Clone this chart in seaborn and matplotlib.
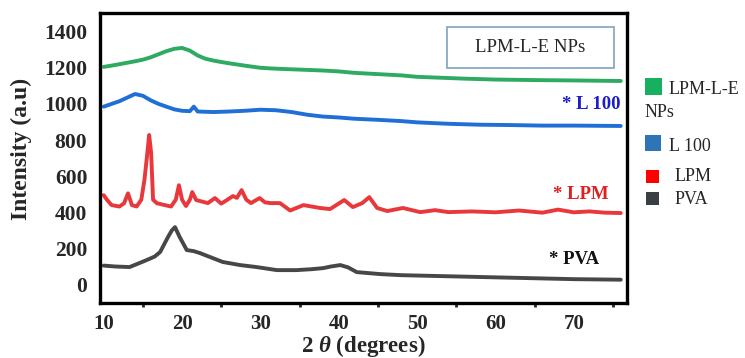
import matplotlib
matplotlib.use("Agg")
import matplotlib.pyplot as plt
from matplotlib.patches import Rectangle
from matplotlib.ticker import MultipleLocator
import numpy as np
import pandas as pd
import seaborn as sns

# ---- XRD patterns (2θ in degrees, intensity in a.u.) ----
pva_2theta = [10, 11.5, 13.3, 14.5, 15.5, 16.5, 17.2, 18.2, 18.7, 19.1, 19.7, 20.6,
              21.5, 22.3, 23.6, 25.2, 27.4, 29.5, 32.1, 34.6, 36.5, 38, 39, 40.2,
              41.2, 42.3, 45.3, 48, 50, 55, 60, 65, 70, 76]
pva_intensity = [105, 100, 97, 118, 136, 155, 180, 263, 300, 318, 263, 191,
                 185, 174, 152, 125, 108, 97, 80, 80, 85, 91, 100, 108,
                 95, 69, 58, 52, 50, 45, 40, 35, 30, 27]

lpm_2theta = [10, 10.4, 11, 12, 12.6, 13.1, 13.6, 14.2, 14.8, 15.2, 15.5, 15.8,
              16.05, 16.3, 16.8, 17.8, 18.6, 19.2, 19.6, 20.0, 20.5, 21.0, 21.3,
              21.8, 22.5, 23.3, 24.2, 25.0, 25.8, 26.5, 27.0, 27.6, 28.2, 28.8,
              29.9, 30.6, 31.3, 32.5, 33.8, 35.5, 37.6, 38.9, 40.7, 41.8, 43.0,
              43.9, 44.9, 46.2, 48.2, 50.4, 52.3, 54, 57, 60, 63, 66, 68, 70, 72,
              74, 76]
lpm_intensity = [495, 470, 440, 432, 450, 505, 440, 432, 470, 580, 700, 828,
                 730, 470, 450, 440, 432, 470, 550, 470, 435, 470, 512,
                 468, 460, 451, 479, 448, 470, 490, 480, 523, 470, 451,
                 479, 455, 451, 451, 410, 440, 424, 418, 468, 429, 451,
                 484, 424, 407, 424, 401, 412, 401, 405, 400, 410, 398, 415, 400, 405,
                 398, 396]

l100_2theta = [10, 11, 12, 13, 14, 15, 16, 17, 18, 19, 20, 21, 21.5, 22, 24, 26,
               28, 30, 32, 34, 36, 38, 40, 42, 45, 48, 50, 54, 58, 62, 66, 70, 76]
l100_intensity = [985, 1000, 1015, 1035, 1055, 1045, 1020, 1000, 985, 970, 962, 960,
                  985, 958, 955, 958, 962, 968, 965, 955, 940, 930, 925, 918, 912,
                  905, 898, 890, 885, 883, 880, 880, 878]

np_2theta = [10, 11, 12, 13, 14, 15, 16, 17, 18, 19, 20, 21, 22, 23, 24, 25, 26,
             28, 30, 32, 35, 38, 40, 42, 45, 48, 50, 53, 56, 60, 65, 70, 76]
np_intensity = [1205, 1212, 1220, 1228, 1236, 1245, 1258, 1275, 1292, 1305, 1310,
                1295, 1268, 1250, 1240, 1232, 1225, 1212, 1200, 1195, 1190, 1185,
                1180, 1172, 1165, 1158, 1150, 1145, 1140, 1135, 1132, 1130, 1127]

series_names = ["PVA", "LPM", "L 100", "LPM-L-E NPs"]
line_colors = ["#474747", "#e8383c", "#1f6fd6", "#2eaa62"]
swatch_colors = ["#3a3f44", "#ff0000", "#2e75b6", "#16b060"]
marker_texts = ["* PVA", "* LPM", "* L 100"]
marker_colors = ["#111111", "#e02020", "#1c1cc8"]

x_ticks = [10, 20, 30, 40, 50, 60, 70]
y_ticks = [0, 200, 400, 600, 800, 1000, 1200, 1400]

frames = []
for name, xs, ys in zip(series_names,
                        [pva_2theta, lpm_2theta, l100_2theta, np_2theta],
                        [pva_intensity, lpm_intensity, l100_intensity, np_intensity]):
    frames.append(pd.DataFrame({"two_theta": xs, "intensity": ys, "sample": name}))
df = pd.concat(frames, ignore_index=True)

sns.set_style("white")
plt.rcParams["font.family"] = ["Liberation Serif", "DejaVu Serif"]
plt.rcParams["mathtext.fontset"] = "custom"
plt.rcParams["mathtext.rm"] = "Liberation Serif"
plt.rcParams["mathtext.it"] = "Liberation Serif:italic:bold"
plt.rcParams["mathtext.bf"] = "Liberation Serif:bold"

W, H = 745, 358
fig = plt.figure(figsize=(W / 100, H / 100), dpi=100)
ax = fig.add_axes([99.8 / W, 1 - 303 / H, (627 - 99.8) / W, (303 - 12.7) / H])

sns.lineplot(data=df, x="two_theta", y="intensity", hue="sample",
             palette=dict(zip(series_names, line_colors)), estimator=None,
             sort=True, linewidth=2.8, legend=False, ax=ax)

ax.set_xlim(9.5, 76.8)
ax.set_ylim(-102, 1505)
ax.set_xticks(x_ticks)
ax.set_yticks(y_ticks)
ax.xaxis.set_minor_locator(MultipleLocator(5))
ax.tick_params(axis="x", which="major", direction="out", length=4, width=2,
               pad=4, labelsize=15)
ax.tick_params(axis="x", which="minor", direction="out", length=3, width=2,
               bottom=True)
ax.tick_params(axis="y", length=0, pad=9, labelsize=15.5)
for lbl in ax.get_xticklabels() + ax.get_yticklabels():
    lbl.set_fontweight("bold")

for sp in ax.spines.values():
    sp.set_linewidth(2.4)
    sp.set_color("black")

ax.set_xlabel(r"2 $\theta$ (degrees)", fontsize=16.5, fontweight="bold", labelpad=-1)
ax.set_ylabel("Intensity (a.u)", fontsize=17, fontweight="bold")
ax.yaxis.set_label_coords(-0.128, 0.53)

# sample tags at the right end of each trace
tag_pos = [(73.3, 140), (74.4, 496), (76.0, 995)]
for (tx, ty), txt, col in zip(tag_pos, marker_texts, marker_colors):
    ax.text(tx, ty, txt, color=col, fontsize=13.5, fontweight="bold",
            ha="right", va="center")

# title box inside the plot
def fx(px):
    return px / W

def fy(py):
    return 1 - py / H

fig.add_artist(Rectangle((fx(447), fy(68)), fx(614) - fx(447), fy(27) - fy(68),
                         transform=fig.transFigure, facecolor="white",
                         edgecolor="#7fa3bf", linewidth=1.2, zorder=5))
fig.text(fx(530.5), fy(48), series_names[3], fontsize=13.5, ha="center",
         va="center", zorder=6)

# legend swatches drawn beside the axes
swatches = [  # (left, top, size, text_x, text_y)
    (645, 78, 17, 669, 90),
    (645, 135, 16, 669, 146),
    (646, 170, 13, 675, 177),
    (646, 192, 13, 675, 199),
]
legend_order = [3, 2, 1, 0]
for (lx, ty, s, tx, tyy), idx in zip(swatches, legend_order):
    fig.add_artist(Rectangle((fx(lx), fy(ty + s)), s / W, s / H,
                             transform=fig.transFigure,
                             facecolor=swatch_colors[idx], edgecolor="none"))
    label = series_names[idx]
    if idx == 3:
        first, second = label.split(" ")
        fig.text(fx(tx), fy(tyy), first, fontsize=13, ha="left", va="center")
        fig.text(fx(lx), fy(tyy + 23), second, fontsize=13, ha="left", va="center")
    else:
        fig.text(fx(tx), fy(tyy), label, fontsize=13, ha="left", va="center")

fig.savefig("out.png", dpi=100)
